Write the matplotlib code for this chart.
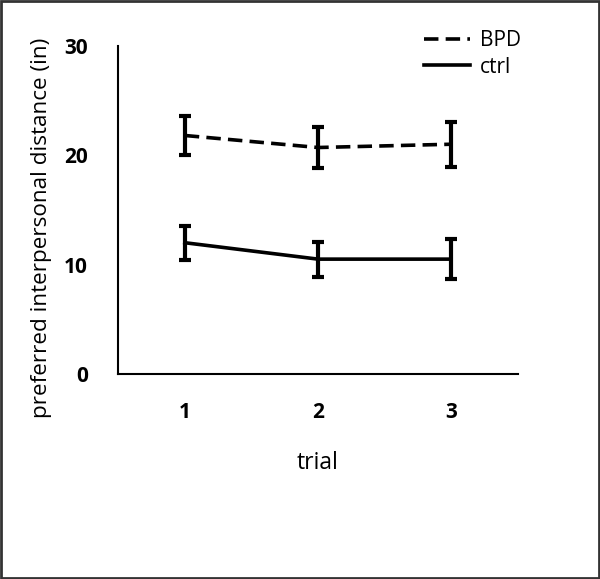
import matplotlib.pyplot as plt
from matplotlib.patches import Rectangle

trials = [1, 2, 3]
bpd_mean = [21.8, 20.7, 21.0]
bpd_err = [1.75, 1.85, 2.05]
ctrl_mean = [12.0, 10.5, 10.5]
ctrl_err = [1.55, 1.6, 1.8]

plt.rcParams['font.family'] = ['Open Sans', 'DejaVu Sans']

fig = plt.figure(figsize=(6, 5.79), dpi=100)
ax = fig.add_axes([0.197, 0.354, 0.666, 0.567])

ax.errorbar(trials, bpd_mean, yerr=bpd_err, color='black', linewidth=2.6,
            linestyle=(0, (4, 2)), elinewidth=3, capsize=4.5, capthick=3,
            label='BPD')
ax.errorbar(trials, ctrl_mean, yerr=ctrl_err, color='black', linewidth=2.6,
            elinewidth=3, capsize=4.5, capthick=3, label='ctrl')

ax.set_xlim(0.5, 3.5)
ax.set_ylim(0, 30)
ax.set_xticks(trials)
ax.set_yticks([0, 10, 20, 30])
ax.tick_params(axis='x', length=0, labelsize=15, pad=20)
ax.tick_params(axis='y', length=0, labelsize=15, pad=22)
for lbl in ax.get_xticklabels() + ax.get_yticklabels():
    lbl.set_fontweight('bold')

for side in ['top', 'right']:
    ax.spines[side].set_visible(False)
for side in ['left', 'bottom']:
    ax.spines[side].set_linewidth(1.5)

ax.set_xlabel('trial', fontsize=16.5, labelpad=20)
ax.set_ylabel('preferred interpersonal distance (in)', fontsize=16.2)
ax.yaxis.set_label_coords(-0.165, 0.445)

handles, labels = ax.get_legend_handles_labels()
handles = [h[0] for h in handles]
ax.legend(handles, labels, loc='upper right', bbox_to_anchor=(0.9, 0.98),
          bbox_transform=fig.transFigure, frameon=False, fontsize=15,
          handlelength=2.2, handletextpad=0.5, labelspacing=0.25)

fig.patches.append(Rectangle((0.002, 0.002), 0.996, 0.996, transform=fig.transFigure,
                             fill=False, edgecolor='#333333', linewidth=2))

fig.savefig('out.png', dpi=100)
